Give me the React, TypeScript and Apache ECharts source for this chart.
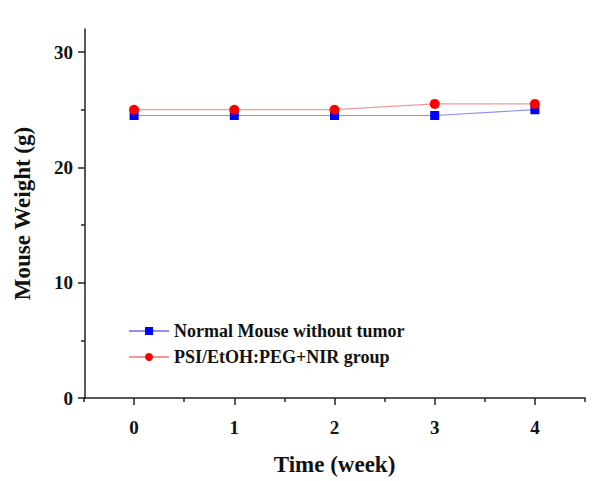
import React, { useEffect, useRef } from "react";
import * as echarts from "echarts";

const weeks = [0, 1, 2, 3, 4];
const normalMouse = [24.5, 24.5, 24.5, 24.5, 25];
const psiGroup = [25, 25, 25, 25.5, 25.5];
const xMajorTicks = [0, 1, 2, 3, 4];
const xMinorTicks = [-0.5, 0.5, 1.5, 2.5, 3.5, 4.5];
const yMajorTicks = [0, 10, 20, 30];
const yMinorTicks = [5, 15, 25];
const seriesNames = ["Normal Mouse without tumor", "PSI/EtOH:PEG+NIR group"];

const FONT = "'Liberation Serif', 'Times New Roman', serif";
const X_MIN = -0.5;
const X_MAX = 4.5;
const Y_MIN = 0;
const Y_MAX = 32;

const mkTick = (values: number[], length: number) => ({
  show: true,
  customValues: values,
  length,
  lineStyle: { color: "#222", width: 1.5 },
});

export default function App() {
  const ref = useRef<HTMLDivElement>(null);
  useEffect(() => {
    if (!ref.current) return;
    const chart = echarts.init(ref.current, null, { renderer: "svg" });
    chart.setOption({
      animation: false,
      backgroundColor: "#fff",
      grid: { left: 84, right: 15, top: 29, bottom: 82 },
      legend: {
        orient: "vertical",
        left: 123,
        top: 317,
        itemWidth: 40,
        itemHeight: 10,
        itemGap: 8,
        textStyle: { fontFamily: FONT, fontWeight: "bold", fontSize: 18, color: "#111" },
        data: seriesNames,
      },
      xAxis: [
        {
          type: "value",
          position: "bottom",
          min: X_MIN,
          max: X_MAX,
          name: "Time (week)",
          nameLocation: "middle",
          nameGap: 55,
          nameTextStyle: { fontFamily: FONT, fontWeight: "bold", fontSize: 23, color: "#111" },
          axisLine: { show: true, onZero: false, lineStyle: { color: "#222", width: 1.5 } },
          axisTick: mkTick(xMajorTicks, 7),
          axisLabel: { customValues: xMajorTicks, margin: 20, fontFamily: FONT, fontWeight: "bold", fontSize: 19, color: "#111" },
          splitLine: { show: false },
        },
        {
          type: "value",
          position: "bottom",
          min: X_MIN,
          max: X_MAX,
          axisLine: { show: false, onZero: false },
          axisTick: mkTick(xMinorTicks, 4),
          axisLabel: { show: false },
          splitLine: { show: false },
        },
      ],
      yAxis: [
        {
          type: "value",
          position: "left",
          offset: -1,
          min: Y_MIN,
          max: Y_MAX,
          name: "Mouse Weight (g)",
          nameLocation: "middle",
          nameGap: 51,
          nameTextStyle: { fontFamily: FONT, fontWeight: "bold", fontSize: 23, color: "#111" },
          axisLine: { show: true, onZero: false, lineStyle: { color: "#222", width: 1.5 } },
          axisTick: mkTick(yMajorTicks, 7),
          axisLabel: { customValues: yMajorTicks, margin: 12, fontFamily: FONT, fontWeight: "bold", fontSize: 19, color: "#111" },
          splitLine: { show: false },
        },
        {
          type: "value",
          position: "left",
          offset: -1,
          min: Y_MIN,
          max: Y_MAX,
          axisLine: { show: false, onZero: false },
          axisTick: mkTick(yMinorTicks, 4),
          axisLabel: { show: false },
          splitLine: { show: false },
        },
      ],
      series: [
        {
          name: seriesNames[0],
          type: "line",
          xAxisIndex: 0,
          yAxisIndex: 0,
          data: weeks.map((w, i) => [w, normalMouse[i]]),
          symbol: "rect",
          symbolSize: 9,
          lineStyle: { color: "#8e8ef5", width: 1.2 },
          itemStyle: { color: "#0000ff" },
          z: 2,
        },
        {
          name: seriesNames[1],
          type: "line",
          xAxisIndex: 0,
          yAxisIndex: 0,
          data: weeks.map((w, i) => [w, psiGroup[i]]),
          symbol: "circle",
          symbolSize: 10,
          lineStyle: { color: "#f09a9a", width: 1.2 },
          itemStyle: { color: "#ff0000" },
          z: 3,
        },
      ],
    });
    return () => chart.dispose();
  }, []);
  return (
    <div
      ref={ref}
      style={{ position: "fixed", left: 0, top: 0, width: 600, height: 481, background: "#fff" }}
    />
  );
}
